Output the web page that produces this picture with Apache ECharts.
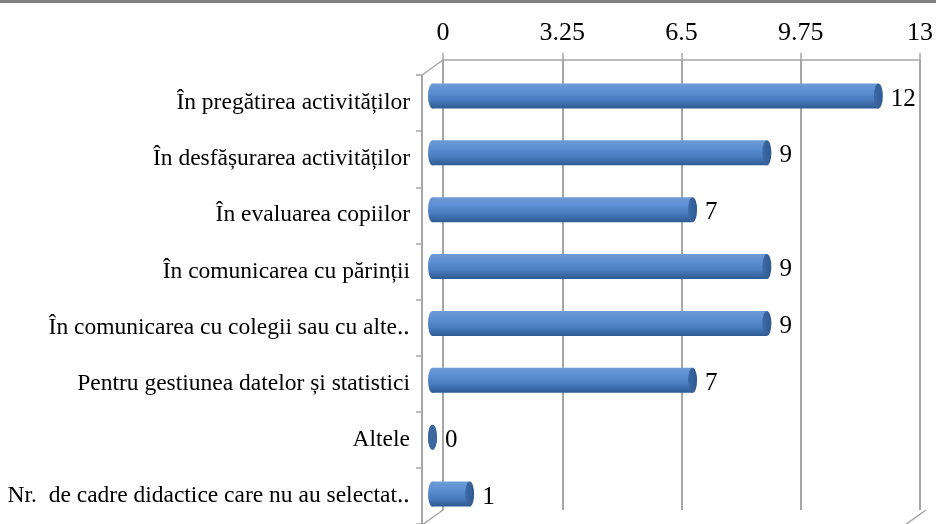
<!DOCTYPE html>
<html>
<head>
<meta charset="utf-8">
<script src="https://cdn.jsdelivr.net/npm/echarts@6/dist/echarts.min.js"></script>
<style>
html,body{margin:0;padding:0;background:#fff;}
#chart{width:936px;height:524px;}
</style>
</head>
<body>
<div id="chart"></div>
<script>
// ---- data ----
const categories = [
  "În pregătirea activităților",
  "În desfășurarea activităților",
  "În evaluarea copiilor",
  "În comunicarea cu părinții",
  "În comunicarea cu colegii sau cu alte‥",
  "Pentru gestiunea datelor și statistici",
  "Altele",
  "Nr.  de cadre didactice care nu au selectat‥"
];
const values = [12, 9, 7, 9, 9, 7, 0, 1];
const tickLabels = [0, 3.25, 6.5, 9.75, 13];

// ---- layout ----
const W = 936, H = 524;
const back = {left: 443, right: 926, top: 60, bottom: 510};
const depthX = -21, depthY = 15;
const catH = 455;
const gridColor = '#a6a6a6';
const font = 'Liberation Serif';

const chart = echarts.init(document.getElementById('chart'));

function cylinder(params, api) {
  const v = api.value(1);
  const idx = api.value(0);
  const s = api.coord([0, idx]);
  const e = api.coord([v, idx]);
  const h = api.size([0, 1])[1] * 0.44;
  const ry = h / 2, rx = 4.5;
  const cy = s[1];
  const grad = new echarts.graphic.LinearGradient(0, 0, 0, 1, [
    {offset: 0, color: '#6e9bd6'},
    {offset: 0.3, color: '#5d8fd3'},
    {offset: 0.65, color: '#4a7cc0'},
    {offset: 1, color: '#2d5a92'}
  ]);
  const capGrad = new echarts.graphic.LinearGradient(0, 0, 1, 0, [
    {offset: 0, color: '#3e6aa6'},
    {offset: 1, color: '#2f5a90'}
  ]);
  const ell = (cx) => 'M' + (cx - rx) + ' ' + cy +
    ' A' + rx + ' ' + ry + ' 0 1 0 ' + (cx + rx) + ' ' + cy +
    ' A' + rx + ' ' + ry + ' 0 1 0 ' + (cx - rx) + ' ' + cy + ' Z';
  const children = [];
  children.push({type: 'path', shape: {pathData: ell(s[0])}, style: {fill: grad}});
  if (e[0] > s[0]) {
    children.push({type: 'rect', shape: {x: s[0], y: cy - ry, width: e[0] - s[0], height: h}, style: {fill: grad}});
  }
  children.push({type: 'path', shape: {pathData: ell(e[0])}, style: {fill: v > 0 ? capGrad : '#3d679f'}});
  children.push({type: 'text', style: {
    text: String(v), x: e[0] + rx + 8, y: cy + 3,
    verticalAlign: 'middle', align: 'left',
    fontFamily: font, fontSize: 25, fill: '#000'
  }});
  return {type: 'group', children: children};
}

const option = {
  backgroundColor: '#fff',
  animation: false,
  textStyle: {fontFamily: font},
  grid: [
    {left: back.left, top: back.top, width: back.right - back.left, height: back.bottom - back.top},
    {left: back.left + depthX / 2, top: back.top + depthY / 2, width: back.right - back.left, height: catH},
    {left: back.left + depthX, top: back.top + depthY, width: back.right - back.left, height: catH}
  ],
  xAxis: [
    {gridIndex: 0, type: 'value', position: 'top', min: 0, max: 13, interval: 3.25,
     axisLine: {show: true, lineStyle: {color: gridColor, width: 1.5}},
     axisTick: {show: true, length: 7, lineStyle: {color: gridColor, width: 1.5}},
     axisLabel: {margin: 14, fontFamily: font, fontSize: 26, color: '#000',
       formatter: (val) => { const t = tickLabels.find(x => Math.abs(x - val) < 1e-6); return t === undefined ? '' : String(t); }},
     splitLine: {show: true, lineStyle: {color: gridColor, width: 2}}},
    {gridIndex: 1, type: 'value', min: 0, max: 13, show: false},
    {gridIndex: 2, type: 'value', min: 0, max: 13, show: false}
  ],
  yAxis: [
    {gridIndex: 0, type: 'category', data: categories, inverse: true, show: false},
    {gridIndex: 1, type: 'category', data: categories, inverse: true, show: false},
    {gridIndex: 2, type: 'category', data: categories, inverse: true,
     axisLine: {show: true, lineStyle: {color: gridColor, width: 2}},
     axisTick: {show: true, length: 6, lineStyle: {color: gridColor, width: 1.5}},
     axisLabel: {margin: 12, fontFamily: font, fontSize: 23.5, color: '#000', padding: [7, 0, 0, 0]},
     splitLine: {show: false}}
  ],
  series: [{
    type: 'custom',
    xAxisIndex: 1, yAxisIndex: 1,
    renderItem: cylinder,
    data: values.map((v, i) => [i, v]),
    encode: {x: 1, y: 0}
  }],
  graphic: [
    {type: 'rect', left: 0, top: 0, shape: {width: W, height: 3}, style: {fill: '#808080'}},
    {type: 'line', shape: {x1: back.left, y1: back.top, x2: back.left + depthX, y2: back.top + depthY},
     style: {stroke: gridColor, lineWidth: 1.5}},
    {type: 'line', shape: {x1: back.left, y1: back.bottom, x2: back.left + depthX, y2: back.bottom + depthY},
     style: {stroke: gridColor, lineWidth: 1.5}},
    {type: 'line', shape: {x1: back.right, y1: back.bottom, x2: back.right + depthX, y2: back.bottom + depthY},
     style: {stroke: gridColor, lineWidth: 1.5}}
  ]
};
chart.setOption(option);
</script>
</body>
</html>
